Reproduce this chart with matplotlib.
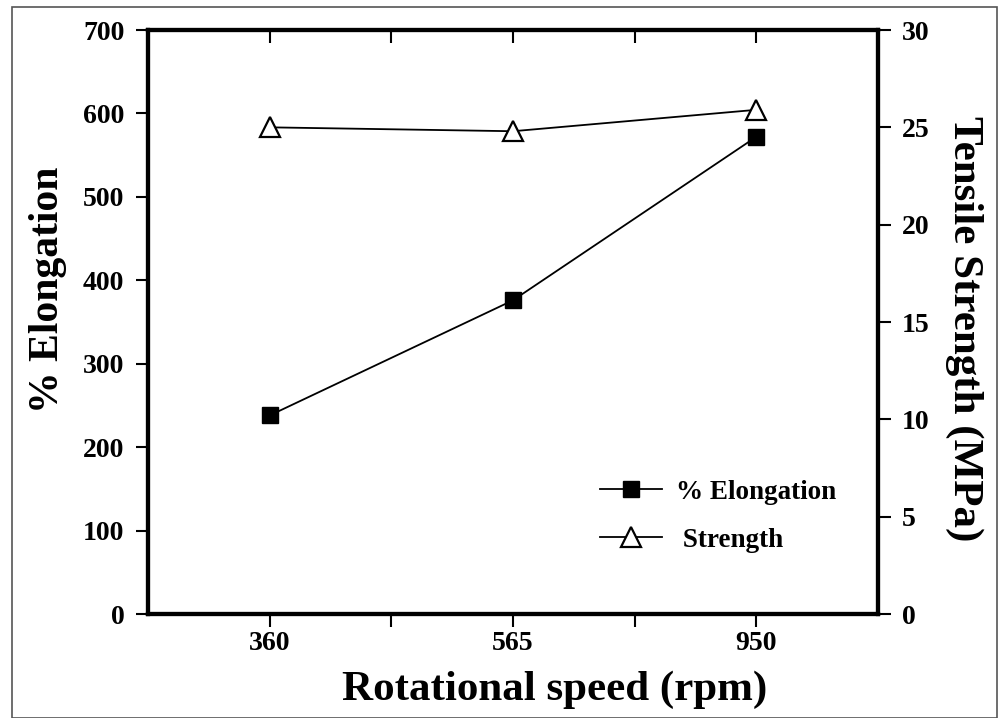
import matplotlib
matplotlib.use("Agg")
import matplotlib.pyplot as plt
from matplotlib.patches import Rectangle
import numpy as np

# datos
velocidades = ["360", "565", "950"]
elongacion = [238, 376, 572]
resistencia = [25.0, 24.8, 25.9]

plt.rcParams['font.family'] = ['Liberation Serif', 'DejaVu Serif']
plt.rcParams['font.weight'] = 'bold'

fig = plt.figure(figsize=(10.01, 7.18), dpi=100)
ax = fig.add_axes([148/1001, 1 - 614/718, 730/1001, 584/718])
ax2 = ax.twinx()

x = np.arange(1, len(velocidades) + 1)

# % elongacion (eje izquierdo)
l1, = ax.plot(x, elongacion, color="black", lw=1.3, marker="s", markersize=12,
              markerfacecolor="black", markeredgecolor="black", label="% Elongation")
# resistencia (eje derecho)
l2, = ax2.plot(x, resistencia, color="black", lw=1.3, marker="^", markersize=14,
               markerfacecolor="white", markeredgecolor="black", markeredgewidth=1.6,
               label=" Strength")

ax.set_xlim(0.5, 3.5)
ax.set_ylim(0, 700)
ax2.set_ylim(0, 30)

ax.set_xticks([1, 1.5, 2, 2.5, 3])
ax.set_xticklabels(["360", "", "565", "", "950"])
ax.set_yticks(np.arange(0, 701, 100))
ax2.set_yticks(np.arange(0, 31, 5))

ax.tick_params(axis="x", direction="out", length=9, width=1.5, labelsize=20, pad=3)
ax.tick_params(axis="y", direction="out", length=9, width=1.5, labelsize=20, pad=8)
ax2.tick_params(axis="y", direction="out", length=9, width=1.5, labelsize=20, pad=8)
ax.xaxis.set_ticks_position("both")
# los ticks de arriba van hacia dentro
for t in ax.xaxis.get_major_ticks():
    t.tick2line.set_marker(matplotlib.lines.TICKDOWN)
    t.tick2line.set_markersize(9)

for a in (ax, ax2):
    for s in a.spines.values():
        s.set_linewidth(3)

ax.set_xlabel("Rotational speed (rpm)", fontsize=31, fontweight="bold")
ax.xaxis.set_label_coords(0.557, -0.097)
ax.set_ylabel("% Elongation", fontsize=30, fontweight="bold")
ax.yaxis.set_label_coords(-0.111, 0.555)
ax2.set_ylabel("Tensile Strength (MPa)", fontsize=31, fontweight="bold", rotation=-90)
ax2.yaxis.set_label_coords(1.145, 0.488)

ax.legend([l1, l2], ["% Elongation", " Strength"], loc="upper left",
          bbox_to_anchor=(0.619, 0.23), frameon=False, fontsize=19.5,
          handlelength=2.3, handletextpad=0.5, labelspacing=0.85,
          borderpad=0, borderaxespad=0)

# marco exterior de la figura
fig.patches.append(Rectangle((12/1001, 0), 985/1001, 1 - 7/718, transform=fig.transFigure,
                             fill=False, edgecolor="#555555", lw=1.2))

plt.savefig("out.png", dpi=100)
